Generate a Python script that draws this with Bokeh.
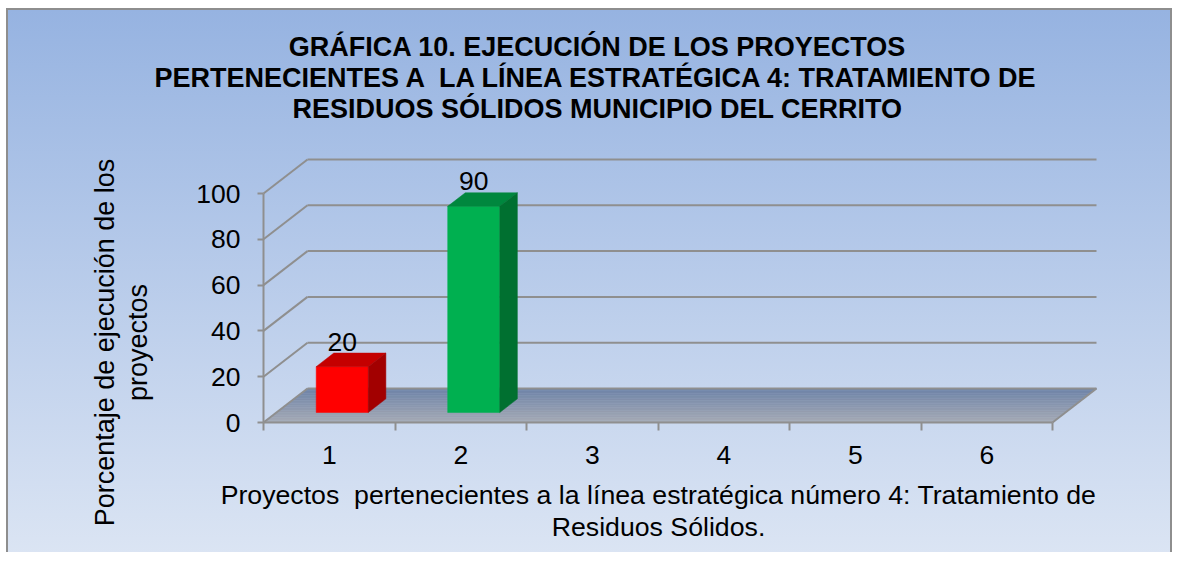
import numpy as np
from bokeh.plotting import figure
from bokeh.models import Range1d, FixedTicker, Label, InlineStyleSheet, LinearAxis
from bokeh.embed import file_html
from bokeh.resources import INLINE

# ---------------- data ----------------
categories = [1, 2, 3, 4, 5, 6]
values = [20, 90, None, None, None, None]          # projects 3-6: no execution shown
front_colors = ["#ff0000", "#00b050", None, None, None, None]
top_colors = ["#c40000", "#00873e", None, None, None, None]
side_colors = ["#a20000", "#007030", None, None, None, None]
y_ticks = [0, 20, 40, 60, 80, 100]

NB = "\u00a0"
title_lines = ["GRÁFICA 10. EJECUCIÓN DE LOS PROYECTOS",
               "PERTENECIENTES A " + NB + "LA LÍNEA ESTRATÉGICA 4: TRATAMIENTO DE",
               "RESIDUOS SÓLIDOS MUNICIPIO DEL CERRITO"]
xlabel_lines = ["Proyectos " + NB + "pertenecientes a la línea estratégica número 4: Tratamiento de",
                "Residuos Sólidos."]
ylabel_lines = ["Porcentaje de ejecución de los", "proyectos"]

# ---------------- layout constants ----------------
W, H = 1172, 552
CAT_PX = 131.5          # px per category
VAL_PX = 2.29           # px per value unit
ORIG_X, ORIG_Y = 263, 422   # canvas px of (x=0.5, y=0)
SX = 44 / CAT_PX        # depth offset (category units) for full depth
SY = 34 / VAL_PX        # depth offset (value units) for full depth
D0, D1 = 0.295, 0.695   # bar front/back depth
HW = 0.198              # bar half width
FONT = "Liberation Sans"
GRID = "#8f8f8f"


def dxp(px):
    return 0.5 + (px - ORIG_X) / CAT_PX


def dyp(py):
    return (ORIG_Y - py) / VAL_PX


p = figure(width=W, height=H, x_range=Range1d(dxp(0), dxp(W)), y_range=Range1d(dyp(H), dyp(0)),
           output_backend="svg", toolbar_location=None, x_axis_location=None, y_axis_location=None,
           min_border=0, min_border_left=0, min_border_right=0, min_border_top=0, min_border_bottom=0)
p.background_fill_alpha = 0
p.border_fill_alpha = 0
p.outline_line_color = None
p.grid.visible = False
p.stylesheets = [InlineStyleSheet(css=(
    ":host { background:"
    " linear-gradient(to bottom, #96b3e1, #dde6f4) 8px 10px / 1162px 560px no-repeat,"
    " linear-gradient(#8e8e8e, #8e8e8e) 6px 8px / 1166px 562px no-repeat,"
    " #ffffff; }"))]


def proj(x, y, d):
    return x + d * SX, y + d * SY


def hexmix(a, b, t):
    a = [int(a[i:i + 2], 16) for i in (1, 3, 5)]
    b = [int(b[i:i + 2], 16) for i in (1, 3, 5)]
    return "#%02x%02x%02x" % tuple(int(round(a[k] + (b[k] - a[k]) * t)) for k in range(3))


# floor (gradient bands)
xa, xb = categories[0] - 0.5, categories[-1] + 0.5
N = 20
fxs, fys, fcs = [], [], []
for i in range(N):
    ta, tb = i / N, (i + 1) / N
    pts = [proj(xa, 0, ta), proj(xb, 0, ta), proj(xb, 0, tb), proj(xa, 0, tb)]
    fxs.append([q[0] for q in pts])
    fys.append([q[1] for q in pts])
    fcs.append(hexmix("#a6abb5", "#6f84a8", (ta + tb) / 2))
p.patches(fxs, fys, fill_color=fcs, line_color=fcs, line_width=0.5)

# back wall gridlines + left wall diagonals + floor outline
bx0, by0, bx1, by1 = [], [], [], []
for v in y_ticks:
    a = proj(xa, v, 1)
    b = proj(xb, v, 1)
    bx0.append(a[0]); by0.append(a[1]); bx1.append(b[0]); by1.append(b[1])
    bx0.append(xa); by0.append(v); bx1.append(a[0]); by1.append(a[1])
r = proj(xb, 0, 1)
bx0.append(xb); by0.append(0); bx1.append(r[0]); by1.append(r[1])
p.segment(bx0, by0, bx1, by1, line_color=GRID, line_width=2)

# 3D bars
for c, v, fc, tc, sc in zip(categories, values, front_colors, top_colors, side_colors):
    if v is None:
        continue
    faces = [
        ([proj(c - HW, 0, D0), proj(c + HW, 0, D0), proj(c + HW, v, D0), proj(c - HW, v, D0)], fc),
        ([proj(c - HW, v, D0), proj(c + HW, v, D0), proj(c + HW, v, D1), proj(c - HW, v, D1)], tc),
        ([proj(c + HW, 0, D0), proj(c + HW, 0, D1), proj(c + HW, v, D1), proj(c + HW, v, D0)], sc),
    ]
    for pts, col in faces:
        p.patch([q[0] for q in pts], [q[1] for q in pts], fill_color=col, line_color=col, line_width=0.5)
    lx, ly = proj(c, v, D0)
    p.add_layout(Label(x=lx, y=v + D1 * SY + 5, text=str(v), text_align="center",
                       text_baseline="alphabetic", text_font=FONT, text_font_size="26.5px",
                       text_color="black"))

# axes (fixed inside the frame, at the front-left corner of the 3D box)
yax = LinearAxis(fixed_location=xa, ticker=FixedTicker(ticks=y_ticks, minor_ticks=[]), bounds=(0, 100))
yax.axis_line_color = GRID
yax.axis_line_width = 2
yax.major_tick_in = 0
yax.major_tick_out = 6
yax.major_tick_line_color = GRID
yax.major_tick_line_width = 2
yax.minor_tick_line_color = None
yax.major_label_standoff = 17
yax.major_label_text_font = FONT
yax.major_label_text_font_size = "26.5px"
yax.major_label_text_color = "black"
p.add_layout(yax, "left")

xax = LinearAxis(fixed_location=0,
                 ticker=FixedTicker(ticks=categories,
                                    minor_ticks=[c - 0.5 for c in categories] + [categories[-1] + 0.5]),
                 bounds=(xa, xb))
xax.axis_line_color = GRID
xax.axis_line_width = 2
xax.major_tick_in = 0
xax.major_tick_out = 0
xax.minor_tick_in = 0
xax.minor_tick_out = 8
xax.minor_tick_line_color = GRID
xax.minor_tick_line_width = 2
xax.major_label_standoff = 15
xax.major_label_text_font = FONT
xax.major_label_text_font_size = "26.5px"
xax.major_label_text_color = "black"
p.add_layout(xax, "below")

# texts
for i, t in enumerate(title_lines):
    p.add_layout(Label(x=dxp(597), y=dyp(46 + 31 * i), text=t, text_align="center",
                       text_baseline="alphabetic", text_font=FONT, text_font_size="27px",
                       text_font_style="bold", text_color="black"))

for i, t in enumerate(xlabel_lines):
    p.add_layout(Label(x=dxp(658), y=dyp(494 + 32 * i), text=t, text_align="center",
                       text_baseline="alphabetic", text_font=FONT, text_font_size="26.7px",
                       text_color="black"))

for i, t in enumerate(ylabel_lines):
    p.add_layout(Label(x=dxp(104 + 33 * i), y=dyp(342), text=t, text_align="center",
                       text_baseline="alphabetic", angle=np.pi / 2, text_font=FONT,
                       text_font_size="27px", text_color="black"))

open("out.html", "w").write(file_html(p, INLINE))
